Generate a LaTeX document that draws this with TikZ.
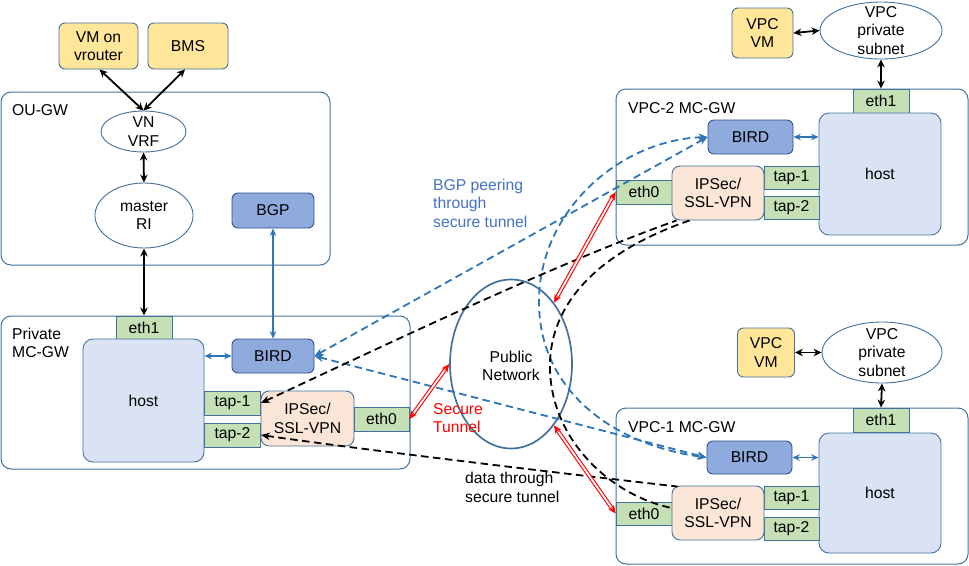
\documentclass[tikz,border=0pt]{standalone}
\usepackage{fontspec}
\setmainfont{Liberation Sans}
\usetikzlibrary{arrows.meta,shapes.geometric,calc}
\definecolor{bord}{HTML}{41719C}
\definecolor{yel}{HTML}{FFE699}
\definecolor{birdc}{HTML}{8FAADC}
\definecolor{birdb}{HTML}{2F528F}
\definecolor{hostc}{HTML}{DAE3F3}
\definecolor{ifc}{HTML}{C5E0B4}
\definecolor{vpnc}{HTML}{FBE5D6}
\definecolor{arrb}{HTML}{2E75B6}
\definecolor{txtb}{HTML}{4472C4}
\newcommand{\dfont}{\fontsize{15.7}{18.5}\selectfont}
\tikzset{
  base/.style={draw=bord, line width=0.9pt, font=\dfont, align=center, inner sep=0pt},
  yelbox/.style={base, fill=yel, rounded corners=6pt},
  bluebox/.style={base, fill=birdc, draw=birdb, rounded corners=6pt},
  hostbox/.style={base, fill=hostc, rounded corners=10pt},
  ifbox/.style={base, fill=ifc},
  vpnbox/.style={base, fill=vpnc, rounded corners=8pt},
  ell/.style={draw=bord, line width=0.9pt, ellipse, fill=white, inner sep=0pt},
  etext/.style={font=\dfont, align=center, inner sep=0pt},
  cont/.style={draw=bord, line width=1pt, rounded corners=10pt},
  lbl/.style={font=\dfont, align=left, inner sep=0pt, anchor=west},
  blk/.style={line width=1.8pt, {Stealth[length=8pt,width=7.5pt]}-{Stealth[length=8pt,width=7.5pt]}},
  blu/.style={draw=arrb, line width=1.6pt, {Stealth[length=7.5pt,width=6.5pt]}-{Stealth[length=7.5pt,width=6.5pt]}},
  bdash/.style={draw=arrb, line width=1.8pt, dash pattern=on 7.5pt off 4.5pt, {Stealth[length=9pt,width=7.5pt]}-{Stealth[length=9pt,width=7.5pt]}},
  kdash/.style={draw=black, line width=1.8pt, dash pattern=on 7.5pt off 4.5pt},
  ktip/.style={{Stealth[length=9pt,width=7.5pt]}-},
  redline/.style={draw=red, line width=1.1pt, double=white, double distance=1.8pt, shorten <=6pt, shorten >=6pt},
  redtip/.style={draw=red, fill=red, line width=0.5pt, -{Stealth[length=8pt,width=7pt]}}
}
\begin{document}
\begin{tikzpicture}[x=1pt,y=-1pt]
\useasboundingbox (0,0) rectangle (969,565);

% containers
\draw[cont] (1,92) rectangle (330,265);
\draw[cont] (1,316) rectangle (410,469);
\draw[cont] (616,89) rectangle (968,245);
\draw[cont] (616,408) rectangle (968,564);
\node[lbl] (lou) at (12,110) {OU-GW};
\node[lbl] (lpriv) at (12,343) {Private\\MC-GW};
\node[lbl] (lv2) at (628,108) {VPC-2 MC-GW};
\node[lbl] (lv1) at (628,427) {VPC-1 MC-GW};

% top left
\node[yelbox, minimum width=79pt, minimum height=46pt] (vm) at (98.5,46) {VM on\\vrouter};
\node[yelbox, minimum width=80pt, minimum height=46pt] (bms) at (188,46) {BMS};
\node[ell, minimum width=85pt, minimum height=41pt] (vn) at (143.5,131.5) {};
\node[etext] (vnt) at (vn.center) {VN\\VRF};
\node[ell, minimum width=98pt, minimum height=65pt] (ri) at (144,215.5) {};
\node[etext] (rit) at (ri.center) {master\\RI};
\node[bluebox, minimum width=82pt, minimum height=35pt] (bgp) at (273,210.5) {BGP};

% private MC-GW
\node[ifbox, minimum width=56pt, minimum height=23pt] (eth1p) at (144,327.5) {eth1};
\node[hostbox, minimum width=121pt, minimum height=123pt] (hostp) at (143.5,400.5) {host};
\node[bluebox, minimum width=82pt, minimum height=34pt] (birdp) at (273,356) {BIRD};
\node[ifbox, minimum width=56pt, minimum height=24pt] (tap1p) at (232.5,403) {tap-1};
\node[ifbox, minimum width=56pt, minimum height=24pt] (tap2p) at (232.5,435) {tap-2};
\node[vpnbox, minimum width=93pt, minimum height=55pt] (vpnp) at (307.5,418.5) {IPSec/\\SSL-VPN};
\node[ifbox, minimum width=55pt, minimum height=24pt] (eth0p) at (381.5,419) {eth0};

% VPC-2
\node[yelbox, minimum width=61pt, minimum height=50pt] (vm2) at (762.5,33) {VPC\\VM};
\node[ell, minimum width=122pt, minimum height=57pt] (sub2) at (881,30.5) {};
\node[etext] (sub2t) at (sub2.center) {VPC\\private\\subnet};
\node[ifbox, minimum width=56pt, minimum height=24pt] (eth12) at (881,101) {eth1};
\node[hostbox, minimum width=122pt, minimum height=122pt] (host2) at (880,174) {host};
\node[bluebox, minimum width=85pt, minimum height=34pt] (bird2) at (750.5,137) {BIRD};
\node[ifbox, minimum width=55pt, minimum height=23pt] (tap12) at (791.5,177.5) {tap-1};
\node[ifbox, minimum width=55pt, minimum height=23pt] (tap22) at (791.5,207.5) {tap-2};
\node[ifbox, minimum width=56pt, minimum height=24pt] (eth02) at (644,192) {eth0};
\node[vpnbox, minimum width=92pt, minimum height=54pt] (vpn2) at (718,193) {IPSec/\\SSL-VPN};

% VPC-1
\node[yelbox, minimum width=57pt, minimum height=49pt] (vm1) at (766,352.5) {VPC\\VM};
\node[ell, minimum width=120pt, minimum height=61pt] (sub1) at (882,352.5) {};
\node[etext] (sub1t) at (sub1.center) {VPC\\private\\subnet};
\node[ifbox, minimum width=56pt, minimum height=24pt] (eth11) at (881,420) {eth1};
\node[hostbox, minimum width=122pt, minimum height=120pt] (host1) at (880,493) {host};
\node[bluebox, minimum width=85pt, minimum height=33pt] (bird1) at (749.5,457.5) {BIRD};
\node[ifbox, minimum width=55pt, minimum height=23pt] (tap11) at (791.5,497.5) {tap-1};
\node[ifbox, minimum width=55pt, minimum height=23pt] (tap21) at (791.5,528.5) {tap-2};
\node[ifbox, minimum width=56pt, minimum height=23pt] (eth01) at (644,513.5) {eth0};
\node[vpnbox, minimum width=92pt, minimum height=54pt] (vpn1) at (718,513) {IPSec/\\SSL-VPN};

% public network
\node[draw=bord, line width=1.7pt, ellipse, minimum width=122pt, minimum height=169pt, inner sep=0pt] (pub) at (511,364) {};
\node[etext] (pubt) at (511,366) {Public\\Network};

% labels
\node[lbl, text=txtb] (bgplbl) at (433,203) {BGP peering\\through\\secure tunnel};
\node[lbl, text=red] (stlbl) at (433,418) {Secure\\Tunnel};
\node[lbl] (datalbl) at (465,487.5) {data through\\secure tunnel};

% solid black arrows
\draw[blk] ($(vm.south)+(1,0)$) -- (vn.north);
\draw[blk] ($(bms.south)+(-3,0)$) -- (vn.north);
\draw[blk] (vn.south) -- (ri.north);
\draw[blk] (ri.south) -- (eth1p.north);
\draw[blk] (vm2.east) -- (sub2.west);
\draw[blk] (sub2.south) -- (eth12.north);
\draw[blk] (vm1.east) -- (sub1.west);
\draw[blk] (sub1.south) -- (eth11.north);

% solid blue arrows
\draw[blu] (birdp.north) -- (bgp.south);
\draw[blu] (birdp.west) -- (hostp.east |- birdp.west);
\draw[blu] (bird2.east) -- (host2.west |- bird2.east);
\draw[blu] (bird1.east) -- (host1.west |- bird1.east);

% BGP peering (blue dashed)
\draw[bdash] (birdp.east) -- (bird2.west);
\draw[bdash] (birdp.east) -- (bird1.west);
\draw[bdash] (bird2.west) .. controls (620,140) and (540,210) .. (539,300)
  .. controls (538,392) and (615,445) .. (bird1.west);

% data (black dashed)
\coordinate (v2a) at ($(vpn2.south west)+(5,0)$);
\coordinate (v2b) at ($(vpn2.south west)+(18,0)$);
\coordinate (v1a) at ($(vpn1.north west)+(6,1)$);
\coordinate (v1b) at ($(vpn1.west)+(0,-5)$);
\draw[kdash, ktip] (tap1p.east) .. controls (400,338) and (560,262) .. (v2a);
\draw[kdash, ktip] (tap2p.east) .. controls (350,448) and (550,472) .. (v1a);
\draw[kdash] (v2b) .. controls (590,255) and (548,310) .. (550,370)
  .. controls (552,440) and (610,495) .. (v1b);

% secure tunnels (red double)
\draw[redline] (eth0p.east) -- (pub.west);
\draw[redtip] ($(eth0p.east)!8pt!(pub.west)$) -- (eth0p.east);
\draw[redtip] ($(pub.west)!8pt!(eth0p.east)$) -- (pub.west);
\draw[redline] (pub.55) -- (eth02.west);
\draw[redtip] ($(pub.55)!8pt!(eth02.west)$) -- (pub.55);
\draw[redtip] ($(eth02.west)!8pt!(pub.55)$) -- (eth02.west);
\draw[redline] (pub.-55) -- (eth01.west);
\draw[redtip] ($(pub.-55)!8pt!(eth01.west)$) -- (pub.-55);
\draw[redtip] ($(eth01.west)!8pt!(pub.-55)$) -- (eth01.west);
\end{tikzpicture}
\end{document}
